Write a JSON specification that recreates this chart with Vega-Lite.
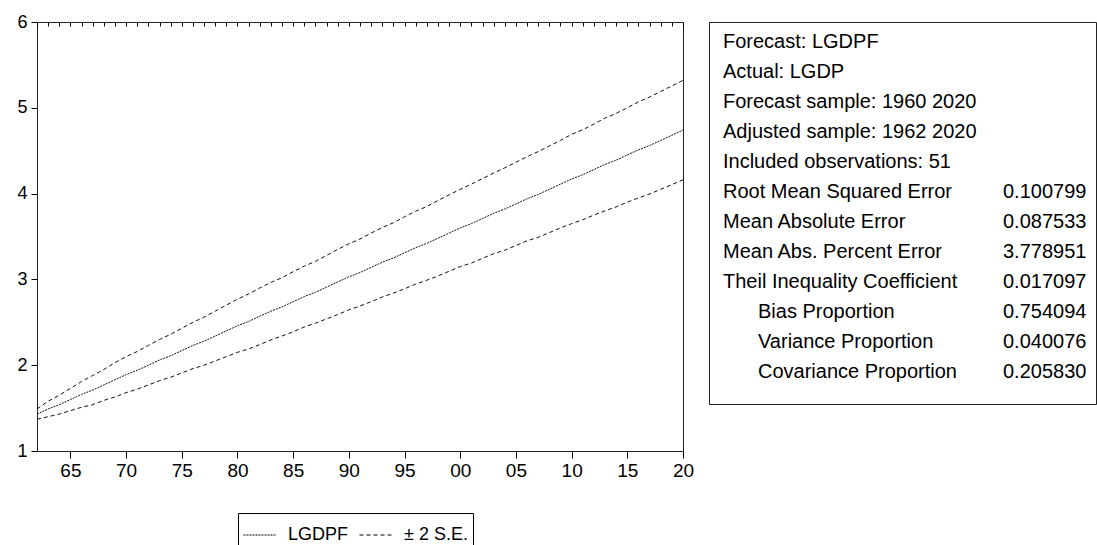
{
  "$schema": "https://vega.github.io/schema/vega-lite/v6.json",
  "padding": {"left": 16, "top": 12, "right": 0, "bottom": 0},
  "background": "white",
  "spacing": 26,
  "bounds": "flush",
  "config": {
    "view": {"stroke": "#222", "strokeWidth": 1},
    "font": "Liberation Sans",
    "axis": {"labelFont": "Liberation Sans", "labelColor": "#000", "tickColor": "#000", "tickOpacity": 1, "ticks": true, "tickWidth": 1, "domain": false, "grid": false, "title": null, "zindex": 1}
  },
  "hconcat": [
    {
      "width": 646,
      "height": 429,
      "data": {"values": [
        {"year": 1962, "LGDPF": 1.43, "upper": 1.49, "lower": 1.37},
        {"year": 1963, "LGDPF": 1.49, "upper": 1.58, "lower": 1.40},
        {"year": 1964, "LGDPF": 1.54, "upper": 1.65, "lower": 1.43},
        {"year": 1965, "LGDPF": 1.60, "upper": 1.73, "lower": 1.47},
        {"year": 1966, "LGDPF": 1.66, "upper": 1.81, "lower": 1.51},
        {"year": 1967, "LGDPF": 1.71, "upper": 1.88, "lower": 1.54},
        {"year": 1968, "LGDPF": 1.77, "upper": 1.95, "lower": 1.59},
        {"year": 1969, "LGDPF": 1.83, "upper": 2.03, "lower": 1.63},
        {"year": 1970, "LGDPF": 1.89, "upper": 2.10, "lower": 1.68},
        {"year": 1971, "LGDPF": 1.94, "upper": 2.16, "lower": 1.72},
        {"year": 1972, "LGDPF": 2.00, "upper": 2.23, "lower": 1.77},
        {"year": 1973, "LGDPF": 2.06, "upper": 2.30, "lower": 1.82},
        {"year": 1974, "LGDPF": 2.11, "upper": 2.36, "lower": 1.86},
        {"year": 1975, "LGDPF": 2.17, "upper": 2.43, "lower": 1.91},
        {"year": 1976, "LGDPF": 2.23, "upper": 2.50, "lower": 1.96},
        {"year": 1977, "LGDPF": 2.28, "upper": 2.56, "lower": 2.00},
        {"year": 1978, "LGDPF": 2.34, "upper": 2.63, "lower": 2.05},
        {"year": 1979, "LGDPF": 2.40, "upper": 2.70, "lower": 2.10},
        {"year": 1980, "LGDPF": 2.46, "upper": 2.77, "lower": 2.15},
        {"year": 1981, "LGDPF": 2.51, "upper": 2.83, "lower": 2.19},
        {"year": 1982, "LGDPF": 2.57, "upper": 2.90, "lower": 2.24},
        {"year": 1983, "LGDPF": 2.63, "upper": 2.965, "lower": 2.295},
        {"year": 1984, "LGDPF": 2.68, "upper": 3.02, "lower": 2.34},
        {"year": 1985, "LGDPF": 2.74, "upper": 3.09, "lower": 2.39},
        {"year": 1986, "LGDPF": 2.80, "upper": 3.155, "lower": 2.445},
        {"year": 1987, "LGDPF": 2.85, "upper": 3.21, "lower": 2.49},
        {"year": 1988, "LGDPF": 2.91, "upper": 3.28, "lower": 2.54},
        {"year": 1989, "LGDPF": 2.97, "upper": 3.35, "lower": 2.59},
        {"year": 1990, "LGDPF": 3.03, "upper": 3.415, "lower": 2.645},
        {"year": 1991, "LGDPF": 3.08, "upper": 3.47, "lower": 2.69},
        {"year": 1992, "LGDPF": 3.14, "upper": 3.54, "lower": 2.74},
        {"year": 1993, "LGDPF": 3.20, "upper": 3.605, "lower": 2.795},
        {"year": 1994, "LGDPF": 3.25, "upper": 3.66, "lower": 2.84},
        {"year": 1995, "LGDPF": 3.31, "upper": 3.73, "lower": 2.89},
        {"year": 1996, "LGDPF": 3.37, "upper": 3.795, "lower": 2.945},
        {"year": 1997, "LGDPF": 3.42, "upper": 3.85, "lower": 2.99},
        {"year": 1998, "LGDPF": 3.48, "upper": 3.92, "lower": 3.04},
        {"year": 1999, "LGDPF": 3.54, "upper": 3.985, "lower": 3.095},
        {"year": 2000, "LGDPF": 3.60, "upper": 4.05, "lower": 3.15},
        {"year": 2001, "LGDPF": 3.65, "upper": 4.11, "lower": 3.19},
        {"year": 2002, "LGDPF": 3.71, "upper": 4.175, "lower": 3.245},
        {"year": 2003, "LGDPF": 3.77, "upper": 4.24, "lower": 3.30},
        {"year": 2004, "LGDPF": 3.82, "upper": 4.30, "lower": 3.34},
        {"year": 2005, "LGDPF": 3.88, "upper": 4.365, "lower": 3.395},
        {"year": 2006, "LGDPF": 3.94, "upper": 4.43, "lower": 3.45},
        {"year": 2007, "LGDPF": 3.99, "upper": 4.49, "lower": 3.49},
        {"year": 2008, "LGDPF": 4.05, "upper": 4.555, "lower": 3.545},
        {"year": 2009, "LGDPF": 4.11, "upper": 4.62, "lower": 3.60},
        {"year": 2010, "LGDPF": 4.17, "upper": 4.69, "lower": 3.65},
        {"year": 2011, "LGDPF": 4.22, "upper": 4.745, "lower": 3.695},
        {"year": 2012, "LGDPF": 4.28, "upper": 4.81, "lower": 3.75},
        {"year": 2013, "LGDPF": 4.34, "upper": 4.88, "lower": 3.80},
        {"year": 2014, "LGDPF": 4.39, "upper": 4.935, "lower": 3.845},
        {"year": 2015, "LGDPF": 4.45, "upper": 5.00, "lower": 3.90},
        {"year": 2016, "LGDPF": 4.51, "upper": 5.07, "lower": 3.95},
        {"year": 2017, "LGDPF": 4.56, "upper": 5.125, "lower": 3.995},
        {"year": 2018, "LGDPF": 4.62, "upper": 5.19, "lower": 4.05},
        {"year": 2019, "LGDPF": 4.68, "upper": 5.255, "lower": 4.105},
        {"year": 2020, "LGDPF": 4.74, "upper": 5.32, "lower": 4.16}
      ]},
      "transform": [{"fold": ["LGDPF", "upper", "lower"], "as": ["series", "val"]}],
      "layer": [
        {
          "mark": {"type": "line", "strokeWidth": 1, "color": "#111"},
          "encoding": {
            "x": {"field": "year", "type": "quantitative",
              "scale": {"domain": [1962, 2020], "nice": false, "zero": false},
              "axis": {"values": [1965, 1970, 1975, 1980, 1985, 1990, 1995, 2000, 2005, 2010, 2015, 2020],
                "labelExpr": "substring(toString(datum.value), 2, 4)", "ticks": true, "tickColor": "#000", "tickSize": 7, "labelFontSize": 19,
                "labelPadding": 3, "labelFlush": false, "labelOverlap": false}},
            "y": {"field": "val", "type": "quantitative",
              "scale": {"domain": [1, 6], "nice": false, "zero": false},
              "axis": {"values": [1, 2, 3, 4, 5, 6], "format": "d", "ticks": true, "tickColor": "#000", "tickSize": 6, "labelFontSize": 18, "labelPadding": 4}},
            "strokeDash": {"field": "series", "type": "nominal",
              "scale": {"domain": ["LGDPF", "upper", "lower"], "range": [[2, 1], [4, 3], [4, 3]]},
              "legend": {"orient": "none", "legendX": 201, "legendY": 491, "direction": "horizontal", "title": null,
                "values": ["LGDPF", "upper"],
                "labelExpr": "datum.label == 'upper' ? '± 2 S.E.' : datum.label",
                "symbolType": "stroke", "symbolSize": 1089, "symbolStrokeWidth": 1, "symbolStrokeColor": "#000",
                "labelFontSize": 18, "labelFont": "Liberation Sans", "labelColor": "#000", "labelOffset": 11,
                "columnPadding": 8, "strokeColor": "#000", "padding": 5, "fillColor": "white"}}
          }
        },
        {
          "mark": {"type": "line", "opacity": 0},
          "encoding": {
            "x": {"field": "year", "type": "quantitative",
              "scale": {"domain": [1962, 2020], "nice": false, "zero": false},
              "axis": {"values": [1962, 1963, 1964, 1965, 1966, 1967, 1968, 1969, 1970, 1971, 1972, 1973, 1974, 1975, 1976, 1977, 1978, 1979, 1980, 1981, 1982, 1983, 1984, 1985, 1986, 1987, 1988, 1989, 1990, 1991, 1992, 1993, 1994, 1995, 1996, 1997, 1998, 1999, 2000, 2001, 2002, 2003, 2004, 2005, 2006, 2007, 2008, 2009, 2010, 2011, 2012, 2013, 2014, 2015, 2016, 2017, 2018, 2019, 2020],
                "labels": false, "ticks": true, "tickColor": "#000", "tickSize": -4, "tickWidth": 1}},
            "y": {"field": "val", "type": "quantitative"},
            "detail": {"field": "series"}
          }
        }
      ],
      "resolve": {"axis": {"x": "independent"}}
    },
    {
      "width": 387,
      "height": 382,
      "data": {"values": [
        {"row": 1, "indent": 0, "label": "Forecast: LGDPF", "value": ""},
        {"row": 2, "indent": 0, "label": "Actual: LGDP", "value": ""},
        {"row": 3, "indent": 0, "label": "Forecast sample: 1960 2020", "value": ""},
        {"row": 4, "indent": 0, "label": "Adjusted sample: 1962 2020", "value": ""},
        {"row": 5, "indent": 0, "label": "Included observations: 51", "value": ""},
        {"row": 6, "indent": 0, "label": "Root Mean Squared Error", "value": "0.100799"},
        {"row": 7, "indent": 0, "label": "Mean Absolute Error", "value": "0.087533"},
        {"row": 8, "indent": 0, "label": "Mean Abs. Percent Error", "value": "3.778951"},
        {"row": 9, "indent": 0, "label": "Theil Inequality Coefficient", "value": "0.017097"},
        {"row": 10, "indent": 1, "label": "Bias Proportion", "value": "0.754094"},
        {"row": 11, "indent": 1, "label": "Variance Proportion", "value": "0.040076"},
        {"row": 12, "indent": 1, "label": "Covariance Proportion", "value": "0.205830"}
      ]},
      "encoding": {
        "y": {"field": "row", "type": "quantitative",
          "scale": {"domain": [0.333, 13.067], "reverse": true, "nice": false, "zero": false}, "axis": null}
      },
      "layer": [
        {
          "mark": {"type": "text", "align": "left", "baseline": "middle", "fontSize": 20, "font": "Liberation Sans", "color": "#000"},
          "encoding": {
            "x": {"field": "indent", "type": "quantitative", "scale": {"domain": [0, 1], "range": [14, 49], "nice": false, "zero": false}, "axis": null},
            "text": {"field": "label"}
          }
        },
        {
          "mark": {"type": "text", "align": "left", "baseline": "middle", "fontSize": 20, "font": "Liberation Sans", "color": "#000"},
          "encoding": {
            "x": {"datum": 8, "type": "quantitative"},
            "text": {"field": "value"}
          }
        }
      ]
    }
  ]
}
